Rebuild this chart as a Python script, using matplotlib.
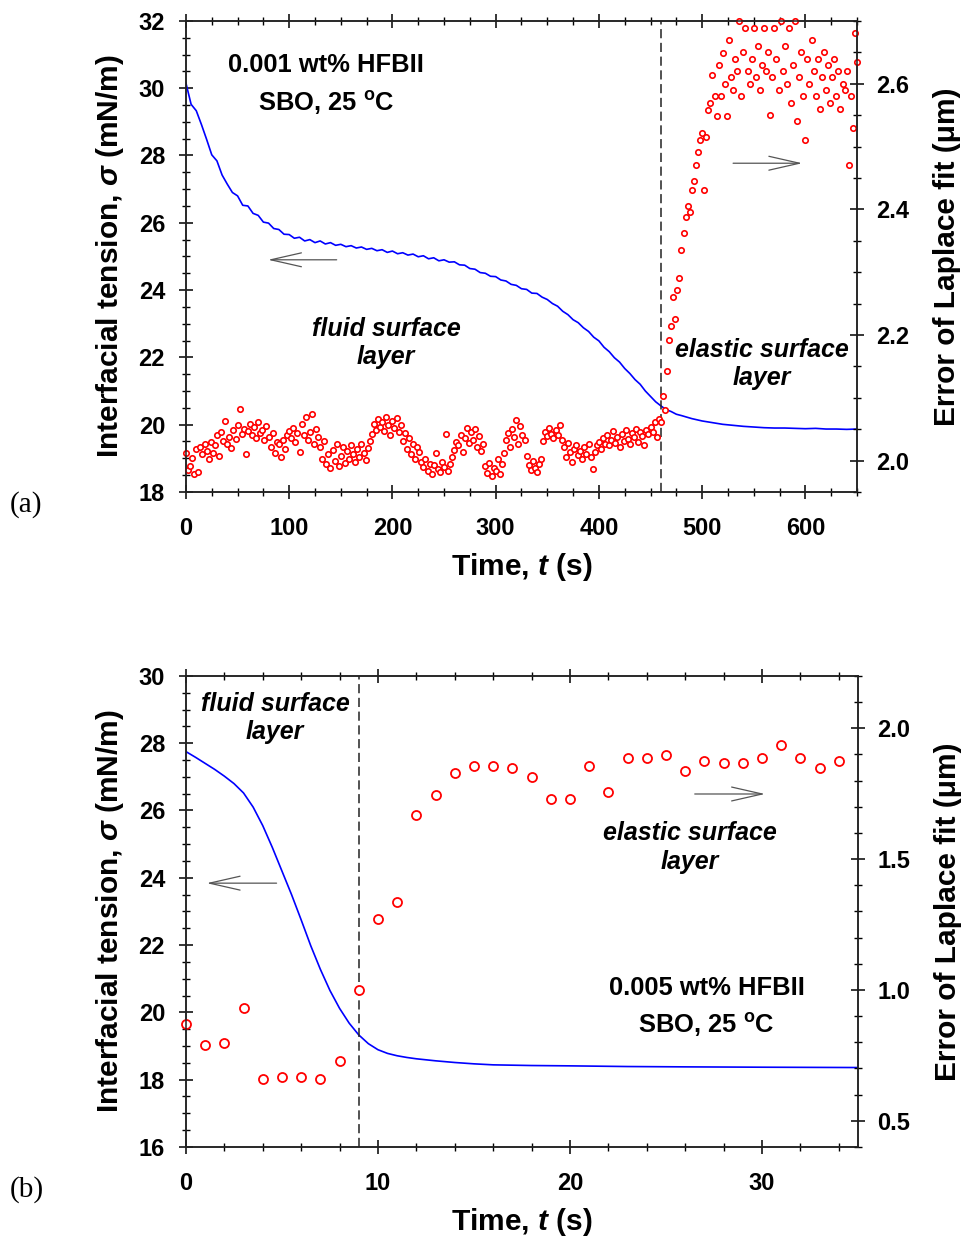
import numpy as np
import matplotlib
matplotlib.use("Agg")
import matplotlib.pyplot as plt

plt.rcParams['font.family'] = ['Liberation Sans', 'DejaVu Sans']
plt.rcParams['font.weight'] = 'bold'
plt.rcParams['axes.labelweight'] = 'bold'
plt.rcParams['mathtext.fontset'] = 'custom'
plt.rcParams['mathtext.rm'] = 'Liberation Sans:bold'
plt.rcParams['mathtext.it'] = 'Liberation Sans:bold:italic'
plt.rcParams['mathtext.bf'] = 'Liberation Sans:bold'

# --- panel (a): 0.001 wt% HFBII ---
t_sig_a = [0, 5, 10, 15, 20, 25, 30, 35, 40, 45, 50, 55, 60, 65, 70, 75, 80, 85, 90, 95,
           100, 105, 110, 115, 120, 125, 130, 135, 140, 145, 150, 155, 160, 165, 170, 175,
           180, 185, 190, 195, 200, 205, 210, 215, 220, 225, 230, 235, 240, 245, 250, 255,
           260, 265, 270, 275, 280, 285, 290, 295, 300, 305, 310, 315, 320, 325, 330, 335,
           340, 345, 350, 355, 360, 365, 370, 375, 380, 385, 390, 395, 400, 405, 410, 415,
           420, 425, 430, 435, 440, 445, 450, 455, 460, 465, 470, 475, 480, 490, 500, 510,
           520, 530, 540, 550, 560, 570, 580, 590, 600, 610, 620, 630, 640, 650]
sig_a = [30.15, 29.52, 29.33, 28.92, 28.48, 28.02, 27.84, 27.42, 27.15, 26.90, 26.80, 26.52,
         26.50, 26.28, 26.22, 26.02, 25.99, 25.83, 25.80, 25.66, 25.65, 25.54, 25.57, 25.46,
         25.50, 25.41, 25.46, 25.37, 25.41, 25.33, 25.36, 25.29, 25.32, 25.25, 25.28, 25.21,
         25.24, 25.17, 25.20, 25.12, 25.16, 25.08, 25.11, 25.04, 25.07, 24.99, 25.02, 24.93,
         24.96, 24.87, 24.90, 24.83, 24.84, 24.75, 24.74, 24.64, 24.62, 24.52, 24.50, 24.41,
         24.40, 24.30, 24.27, 24.17, 24.14, 24.04, 24.02, 23.91, 23.90, 23.79, 23.72, 23.60,
         23.52, 23.37, 23.27, 23.12, 23.03, 22.88, 22.77, 22.60, 22.49, 22.30, 22.17, 21.99,
         21.86, 21.67, 21.52, 21.34, 21.20, 21.00, 20.84, 20.68, 20.56, 20.45, 20.39, 20.31,
         20.27, 20.18, 20.11, 20.06, 20.01, 19.98, 19.95, 19.93, 19.91, 19.90, 19.90, 19.89,
         19.88, 19.89, 19.87, 19.87, 19.86, 19.87]

# fit error, sampled every 2 s
err_a_fluid = [2.012, 1.985, 1.992, 2.004, 1.978,
               2.018, 1.981, 2.022, 2.010, 2.026, 2.015, 2.003, 2.030, 2.012, 2.024,
               2.041, 2.008, 2.046, 2.031, 2.063, 2.027, 2.038, 2.020, 2.049, 2.035,
               2.056, 2.082, 2.043, 2.050, 2.011, 2.047, 2.058, 2.040, 2.053, 2.036, 2.061, 2.044, 2.049, 2.032, 2.055,
               2.038, 2.021, 2.044, 2.012, 2.030, 2.026, 2.005, 2.033, 2.019, 2.041,
               2.047, 2.036, 2.052, 2.029, 2.044, 2.014, 2.058, 2.040, 2.069, 2.033, 2.045, 2.074, 2.026, 2.050, 2.038,
               2.022, 2.003, 2.031, 1.995, 2.011, 1.988, 2.017, 2.000, 2.026, 1.992,
               2.008, 2.021, 1.996, 2.015, 2.003, 2.024, 2.010, 1.998, 2.019, 2.006, 2.027, 2.012, 2.001, 2.020, 2.031,
               2.043, 2.058, 2.049, 2.066, 2.053, 2.061, 2.047, 2.070, 2.056, 2.040, 2.063, 2.052, 2.068, 2.045, 2.057,
               2.031, 2.044, 2.019, 2.036, 2.010, 2.027, 2.003, 2.022, 2.013, 1.998,
               1.990, 2.002, 1.984, 1.995, 1.978, 1.993, 2.012, 1.986, 1.981, 1.997, 1.989, 2.043, 1.983, 1.994, 2.006,
               2.017, 2.030, 2.024, 2.041, 2.013, 2.036, 2.052, 2.028, 2.045, 2.033, 2.050, 2.021, 2.039, 2.016, 2.027,
               1.992, 1.980, 1.996, 1.976, 1.988, 1.983, 2.002, 1.979, 1.994, 2.012,
               2.032, 2.044, 2.021, 2.050, 2.038, 2.064, 2.027, 2.055, 2.041, 2.033,
               2.008, 1.993, 1.985, 2.000, 1.988, 1.981, 1.995, 2.003,
               2.031, 2.046, 2.039, 2.052, 2.043, 2.036, 2.049, 2.041, 2.057, 2.033,
               2.022, 2.006, 2.028, 2.013, 1.997, 2.019, 2.025, 2.009, 2.016, 2.003, 2.021, 2.011, 2.027, 2.005, 1.987, 2.014, 2.024,
               2.030, 2.019, 2.036, 2.027, 2.041, 2.024, 2.033, 2.047, 2.028, 2.038, 2.022, 2.043, 2.031, 2.049, 2.035,
               2.026, 2.044, 2.037, 2.051, 2.030, 2.046, 2.039, 2.025, 2.048, 2.042,
               2.053, 2.045, 2.061, 2.038, 2.066]
err_a_elastic = [2.062, 2.102, 2.081, 2.142, 2.192, 2.214, 2.261, 2.226, 2.272, 2.291,
                 2.335, 2.362, 2.388, 2.405, 2.396, 2.431, 2.445, 2.471, 2.492, 2.510,
                 2.522, 2.430, 2.515, 2.558, 2.569, 2.614, 2.580, 2.549, 2.630, 2.580,
                 2.649, 2.600, 2.549, 2.670, 2.610, 2.590, 2.640, 2.620, 2.700, 2.580,
                 2.650, 2.688, 2.620, 2.600, 2.640, 2.688, 2.610, 2.660, 2.590, 2.630,
                 2.688, 2.620, 2.650, 2.550, 2.610, 2.688, 2.640, 2.590, 2.700, 2.620,
                 2.660, 2.600, 2.688, 2.570, 2.630, 2.700, 2.540, 2.610, 2.650, 2.580,
                 2.510, 2.640, 2.600, 2.670, 2.620, 2.580, 2.640, 2.560, 2.610, 2.650,
                 2.590, 2.630, 2.570, 2.610, 2.640, 2.580, 2.620, 2.560, 2.600, 2.590,
                 2.620, 2.470, 2.580, 2.530, 2.680, 2.635]
err_a = np.array(err_a_fluid + err_a_elastic)
t_err_a = 2 * np.arange(len(err_a))

# --- panel (b): 0.005 wt% HFBII ---
t_sig_b = [0, 0.5, 1, 1.5, 2, 2.5, 3, 3.5, 4, 4.5, 5, 5.5, 6, 6.5, 7, 7.5, 8, 8.5, 9, 9.5, 10, 10.5,
           11, 11.5, 12, 13, 14, 15, 16, 18, 20, 23, 26, 30, 35]
sig_b = [27.75, 27.58, 27.40, 27.22, 27.02, 26.80, 26.52, 26.10, 25.55, 24.90, 24.20, 23.50,
         22.75, 21.98, 21.28, 20.65, 20.12, 19.68, 19.33, 19.07, 18.89, 18.78, 18.71, 18.66,
         18.62, 18.56, 18.51, 18.47, 18.44, 18.42, 18.41, 18.39, 18.38, 18.37, 18.36]
t_err_b = np.arange(35)
err_b = [0.870, 0.789, 0.799, 0.930, 0.659, 0.669, 0.669, 0.659, 0.730, 0.998,
         1.271, 1.336, 1.669, 1.745, 1.829, 1.856, 1.856, 1.847, 1.815, 1.729,
         1.729, 1.856, 1.757, 1.888, 1.888, 1.897, 1.837, 1.876, 1.866, 1.866,
         1.888, 1.936, 1.888, 1.847, 1.876]

TICK_FS = 17
LABEL_FS = 21.5
NOTE_FS = 18


def style_axes(ax, ax2):
    for a in (ax, ax2):
        for s in a.spines.values():
            s.set_linewidth(1.1)
            s.set_color('#222222')
    ax.tick_params(which='major', direction='inout', length=10, width=1.1, labelsize=TICK_FS,
                   top=True, right=False, pad=10)
    ax.tick_params(which='minor', direction='inout', length=6, width=1.0, top=True, right=False)
    ax.tick_params(axis='x', pad=13)
    ax2.tick_params(which='major', direction='inout', length=10, width=1.1, labelsize=TICK_FS, pad=9)
    ax2.tick_params(which='minor', direction='inout', length=6, width=1.0)
    ax.set_xlabel('Time, $t$ (s)', fontsize=LABEL_FS, labelpad=8)
    ax.set_ylabel('Interfacial tension, $\\sigma$ (mN/m)', fontsize=LABEL_FS, labelpad=9)
    ax2.set_ylabel('Error of Laplace fit (μm)', fontsize=LABEL_FS, labelpad=17)


def arrow(ax, x_from, x_to, y):
    ax.annotate('', xy=(x_to, y), xytext=(x_from, y),
                arrowprops=dict(arrowstyle='->,head_length=2.2,head_width=0.5', color='#555555',
                                lw=0.9, mutation_scale=10, shrinkA=0, shrinkB=0))


fig = plt.figure(figsize=(9.68, 12.37), dpi=100)

# panel (a)
ax = fig.add_axes([0.1921, 0.6023, 0.6932, 0.3808])
ax2 = ax.twinx()
ax.plot(t_sig_a, sig_a, color='#0000ff', lw=1.2)
ax2.plot(t_err_a, err_a, ls='none', marker='o', ms=3.9, mfc='white', mec='#ff0000', mew=1.2,
         clip_on=False)
ax.axvline(460, color='#222222', lw=1.1, ls=(0, (6, 3)))
ax.set_xlim(0, 650)
ax.set_ylim(18, 32)
ax2.set_ylim(1.95, 2.70)
ax.set_xticks(np.arange(0, 700, 100))
ax.set_xticks(np.arange(0, 651, 25), minor=True)
ax.set_yticks(np.arange(18, 33, 2))
ax.set_yticks(np.arange(18, 32.1, 0.5), minor=True)
ax2.set_yticks([2.0, 2.2, 2.4, 2.6])
ax2.set_yticks(np.arange(1.95, 2.701, 0.05), minor=True)
ax2.set_yticklabels(['2.0', '2.2', '2.4', '2.6'])
style_axes(ax, ax2)
ax.text(135.6, 30.69, '0.001 wt% HFBII', ha='center', va='center', fontsize=18.4)
ax.text(135.6, 29.55, 'SBO, 25 $^{\\mathregular{o}}$C', ha='center', va='center', fontsize=18.4)
ax.text(194, 22.43, 'fluid surface\nlayer', ha='center', va='center', fontsize=NOTE_FS,
        style='italic', linespacing=1.25)
ax.text(558, 21.8, 'elastic surface\nlayer', ha='center', va='center', fontsize=NOTE_FS,
        style='italic', linespacing=1.25)
arrow(ax, 146, 79.5, 24.9)
arrow(ax, 530, 597, 27.77)

# panel (b)
bx = fig.add_axes([0.1921, 0.0728, 0.6942, 0.3808])
bx2 = bx.twinx()
bx.plot(t_sig_b, sig_b, color='#0000ff', lw=1.2)
bx2.plot(t_err_b, err_b, ls='none', marker='o', ms=6.5, mfc='white', mec='#ff0000', mew=1.3,
         clip_on=False)
bx.axvline(9, color='#222222', lw=1.1, ls=(0, (6, 3)))
bx.set_xlim(0, 35)
bx.set_ylim(16, 30)
bx2.set_ylim(0.4, 2.2)
bx.set_xticks([0, 10, 20, 30])
bx.set_xticks(np.arange(0, 35.1, 2), minor=True)
bx.set_yticks(np.arange(16, 31, 2))
bx.set_yticks(np.arange(16, 30.1, 0.5), minor=True)
bx2.set_yticks([0.5, 1.0, 1.5, 2.0])
bx2.set_yticks(np.arange(0.4, 2.21, 0.1), minor=True)
bx2.set_yticklabels(['0.5', '1.0', '1.5', '2.0'])
style_axes(bx, bx2)
bx.text(4.64, 28.75, 'fluid surface\nlayer', ha='center', va='center', fontsize=NOTE_FS,
        style='italic', linespacing=1.25)
bx.text(26.25, 24.9, 'elastic surface\nlayer', ha='center', va='center', fontsize=NOTE_FS,
        style='italic', linespacing=1.25)
bx.text(27.15, 20.72, '0.005 wt% HFBII', ha='center', va='center', fontsize=18.4)
bx.text(27.1, 19.63, 'SBO, 25 $^{\\mathregular{o}}$C', ha='center', va='center', fontsize=18.4)
arrow(bx, 4.72, 1.08, 23.84)
arrow(bx, 26.5, 30.16, 26.49)

fig.text(10 / 968, 1 - 505 / 1237, '(a)', family='Liberation Serif', fontweight='normal',
         fontsize=21, va='center', ha='left')
fig.text(10 / 968, 1 - 1190 / 1237, '(b)', family='Liberation Serif', fontweight='normal',
         fontsize=21, va='center', ha='left')

fig.savefig('out.png', dpi=100, facecolor='white')
